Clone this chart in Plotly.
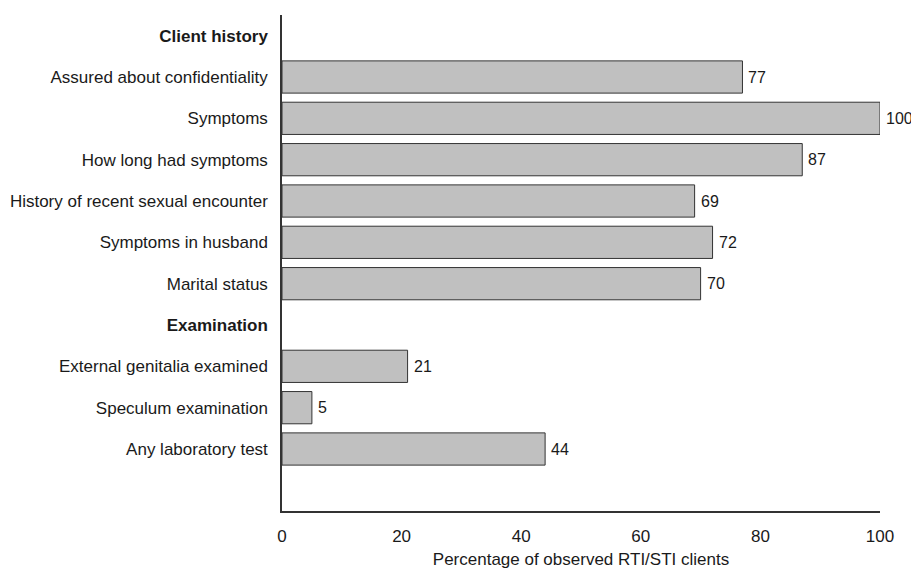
import plotly.graph_objects as go

labels = ["Client history", "Assured about confidentiality", "Symptoms",
          "How long had symptoms", "History of recent sexual encounter",
          "Symptoms in husband", "Marital status", "Examination",
          "External genitalia examined", "Speculum examination",
          "Any laboratory test", ""]
values = [None, 77, 100, 87, 69, 72, 70, None, 21, 5, 44, None]
headers = ["Client history", "Examination"]

pos = list(range(len(labels)))
ticktext = ["<b>%s</b>" % l if l in headers else l for l in labels]

fig = go.Figure()
fig.add_trace(go.Bar(
    x=values, y=pos, orientation="h", width=0.78,
    marker=dict(color="#c0c0c0", line=dict(color="#333333", width=1)),
    showlegend=False, hoverinfo="skip"))

# value labels just right of each bar end
for p, v in zip(pos, values):
    if v is None:
        continue
    fig.add_annotation(x=v, y=p, text=str(v), showarrow=False,
                       xanchor="left", xshift=4,
                       font=dict(size=16, color="#1a1a1a"))

# page sits 8px in from the window edge, so keep the figure inside it
fig.update_layout(
    width=911, height=561,
    margin=dict(l=274, r=39, t=7, b=58),
    plot_bgcolor="white", paper_bgcolor="white",
    font=dict(family="Liberation Sans, Arial, sans-serif", size=17, color="#1a1a1a"),
)
fig.update_xaxes(range=[0, 100], tickvals=[0, 20, 40, 60, 80, 100],
                 showgrid=False, zeroline=False, showline=True, automargin=False,
                 linecolor="#333333", linewidth=1.5, ticks="", ticklabelstandoff=9,
                 tickfont=dict(size=17),
                 title=dict(text="Percentage of observed RTI/STI clients",
                            font=dict(size=17), standoff=10))
fig.update_yaxes(range=[11.5, -0.5], tickvals=pos, ticktext=ticktext,
                 showgrid=False, zeroline=False, showline=True, automargin=False,
                 linecolor="#333333", linewidth=1.5, ticks="", ticklabelstandoff=9,
                 tickfont=dict(size=17))

fig.write_html("out.html")
